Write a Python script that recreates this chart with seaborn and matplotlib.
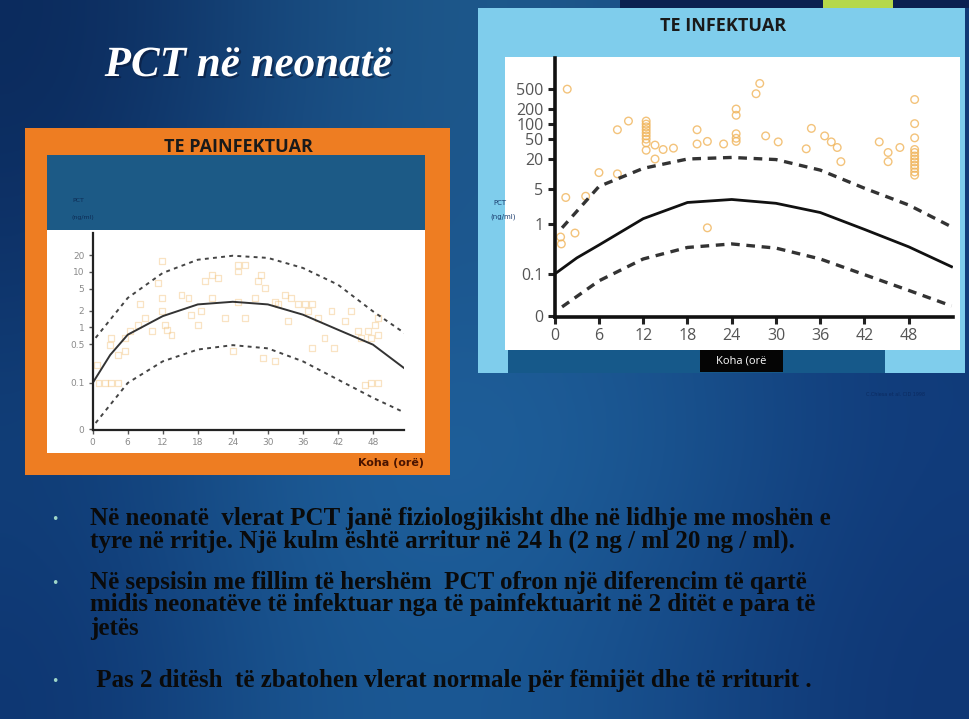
import numpy as np
import pandas as pd
import matplotlib
matplotlib.use("Agg")
import matplotlib.pyplot as plt
import matplotlib.patheffects as pe
from matplotlib.patches import Rectangle
from matplotlib.colors import to_rgb
import seaborn as sns

# ---------------- data ----------------
# Uninfected neonates (TE PAINFEKTUAR): hours of life and PCT (ng/ml)
uninf_hours = [0.7, 1.0, 2.1, 3.2, 4.4, 3.0, 3.2, 4.4, 5.5, 5.5, 6.4, 7.8, 9.0, 8.1, 10.1,
               11.8, 11.2, 11.8, 11.8, 12.4, 12.7, 13.5, 15.2, 16.4, 16.9, 18.1, 18.6, 19.2,
               20.4, 20.4, 21.5, 22.6, 24.1, 24.9, 24.9, 26.1, 24.9, 26.1, 27.8, 28.3, 28.9,
               29.5, 29.2, 31.2, 31.2, 31.8, 32.9, 33.5, 34.0, 35.2, 36.3, 37.5, 36.9, 37.5,
               38.6, 39.7, 40.9, 41.4, 43.2, 44.3, 45.4, 46.0, 47.1, 47.7, 48.3, 48.9, 48.9,
               46.6, 47.7, 48.9]
uninf_pct = [0.21, 0.1, 0.1, 0.1, 0.1, 0.49, 0.65, 0.32, 0.37, 0.65, 0.85, 1.1, 1.5, 2.6, 0.85,
             15.5, 6.3, 3.4, 1.95, 1.1, 0.91, 0.74, 3.9, 3.4, 1.7, 1.1, 1.95, 6.8,
             3.4, 8.9, 7.8, 1.5, 0.37, 13.5, 10.2, 13.5, 2.9, 1.5, 3.4, 6.8, 8.9,
             5.2, 0.28, 0.25, 2.9, 2.6, 3.9, 1.3, 3.4, 2.6, 2.6, 2.6, 1.95, 0.43,
             1.5, 0.65, 1.95, 0.43, 1.3, 1.95, 0.85, 0.65, 0.85, 0.65, 1.1, 1.5, 0.74,
             0.093, 0.1, 0.1]

# Infected neonates (TE INFEKTUAR)
inf_hours = [1.7, 1.5, 4.2, 0.8, 0.9, 2.75, 6.0, 8.5, 8.5, 10.0,
             12.4, 12.4, 12.4, 12.4, 12.4, 12.4, 12.4, 12.4, 12.4,
             13.6, 13.6, 14.7, 16.1,
             19.3, 19.3, 20.7, 20.7, 22.9,
             24.6, 24.6, 24.6, 24.6, 24.6,
             27.3, 27.8, 28.6, 30.3,
             34.1, 34.8, 36.6, 37.5, 38.3, 38.8,
             44.0, 45.2, 45.2, 46.8,
             48.8, 48.8, 48.8, 48.8, 48.8, 48.8, 48.8, 48.8, 48.8, 48.8, 48.8, 48.8]
inf_pct = [500, 3.4, 3.6, 0.55, 0.4, 0.66, 10.7, 10.1, 77, 115,
           115, 100, 88, 77, 67, 58, 50, 42, 30,
           38, 20, 31, 33,
           77, 40, 45, 0.84, 40,
           200, 150, 64, 52, 45,
           405, 650, 58, 44,
           32, 82, 58, 44, 34, 17.7,
           44, 27, 17.7, 34,
           310, 102, 53, 31, 27, 23, 20, 17.5, 15, 13, 11, 9.5]

# Reference curves: median and 95% limits (ng/ml) at given hours
curve_hours_l = [0, 3, 6, 12, 18, 24, 30, 36, 42, 48, 53.8]
uninf_median = [0.1, 0.32, 0.74, 1.6, 2.6, 2.9, 2.6, 1.7, 0.91, 0.49, 0.17]
band_hours_l = [0.5, 6, 12, 18, 24, 30, 36, 42, 48, 53.8]
uninf_upper = [0.65, 3.4, 9.6, 16.6, 19.6, 17.9, 11.8, 5.9, 1.95, 0.74]
uninf_lower = [0.019, 0.1, 0.245, 0.4, 0.48, 0.42, 0.245, 0.115, 0.054, 0.028]

curve_hours_r = [0, 3, 6, 12, 18, 24, 30, 36, 42, 48, 53.8]
inf_median = [0.1, 0.21, 0.38, 1.28, 2.7, 3.1, 2.6, 1.7, 0.78, 0.35, 0.14]
band_hours_r = [1.0, 6, 12, 18, 24, 30, 36, 42, 48, 53.8]
inf_upper = [0.84, 5.65, 13, 20, 21.5, 19.5, 12, 5.2, 2.4, 0.88]
inf_lower = [0.022, 0.073, 0.2, 0.34, 0.4, 0.33, 0.2, 0.097, 0.047, 0.023]

x_ticks = [0, 6, 12, 18, 24, 30, 36, 42, 48]
left_yticks = [0.0145, 0.1, 0.5, 1, 2, 5, 10, 20]
left_ylabels = ["0", "0.1", "0.5", "1", "2", "5", "10", "20"]
right_yticks = [0.0146, 0.1, 1, 5, 20, 50, 100, 200, 500]
right_ylabels = ["0", "0.1", "1", "5", "20", "50", "100", "200", "500"]

slide_title = "PCT në neonatë"
bullets = [
    ["Në neonatë  vlerat PCT janë fiziologjikisht dhe në lidhje me moshën e",
     "tyre në rritje. Një kulm është arritur në 24 h (2 ng / ml 20 ng / ml)."],
    ["Në sepsisin me fillim të hershëm  PCT ofron një diferencim të qartë",
     "midis neonatëve të infektuar nga të painfektuarit në 2 ditët e para të",
     "jetës"],
    [" Pas 2 ditësh  të zbatohen vlerat normale për fëmijët dhe të rriturit ."],
]

# ---------------- figure ----------------
W, H = 970, 719
fig = plt.figure(figsize=(W / 100, H / 100), dpi=100)


def fbox(x0, y0, x1, y1):
    """Pixel box (top-left origin) -> figure fraction [l, b, w, h]."""
    return [x0 / W, 1 - y1 / H, (x1 - x0) / W, (y1 - y0) / H]


def rect(x0, y0, x1, y1, color, z=-2):
    l, b, w, h = fbox(x0, y0, x1, y1)
    fig.add_artist(Rectangle((l, b), w, h, transform=fig.transFigure,
                             facecolor=color, edgecolor="none", zorder=z))


def ftext(x, y, s, **kw):
    fig.text(x / W, 1 - y / H, s, **kw)


# slide background gradient
grid_hex = [
    ["#0b2a5c", "#184b80", "#1f5c8e", "#1a4f86", "#123a76"],
    ["#0e336a", "#1a5088", "#1d5a92", "#184f8a", "#103a78"],
    ["#11407a", "#1d5c96", "#2064a0", "#1a5590", "#113c7c"],
    ["#0e3672", "#1a5590", "#1b5a96", "#164a88", "#0f3674"],
]
grid = np.array([[to_rgb(c) for c in row] for row in grid_hex])
ax_bg = fig.add_axes([0, 0, 1, 1], zorder=-10)
ax_bg.imshow(grid, extent=(0, 1, 0, 1), aspect="auto", interpolation="bicubic")
ax_bg.set_axis_off()

# left panel frame
rect(25, 128, 450, 475, "#ee7d22")
rect(47, 155, 425, 230, "#1c5a86")
rect(47, 230, 425, 453, "#ffffff")
ftext(238, 147, "TE PAINFEKTUAR", ha="center", va="center", fontsize=13,
      fontweight="bold", family="Open Sans", color="#1a1a1a", zorder=3)
ftext(72, 201, "PCT", fontsize=4.5, color="#0d2c55", va="center", zorder=3)
ftext(72, 217, "(ng/ml)", fontsize=4.5, color="#0d2c55", va="center", zorder=3)
ftext(424, 463, "Koha (orë)", ha="right", va="center", fontsize=8,
      fontweight="bold", color="#4a1400", zorder=3)

# right panel frame
rect(620, 0, 970, 8, "#0b2050")
rect(823, 0, 893, 8, "#b5d84a")
rect(478, 8, 965, 373, "#7fcdec")
rect(505, 57, 960, 350, "#ffffff")
rect(508, 350, 885, 373, "#16598a")
rect(700, 350, 783, 372, "#050505")
ftext(723, 26, "TE INFEKTUAR", ha="center", va="center", fontsize=13,
      fontweight="bold", family="Open Sans", color="#1a1a1a", zorder=3)
ftext(741, 361, "Koha (orë", ha="center", va="center", fontsize=8,
      family="Open Sans", color="#ffffff", zorder=3)
ftext(493, 203, "PCT", fontsize=5, color="#1b3d6e", va="center", zorder=4)
ftext(490, 217, "(ng/ml)", fontsize=5, color="#1b3d6e", va="center", zorder=4)

ftext(895, 395, "C.Chiesa et al. CID 1998", ha="center", va="center",
      fontsize=3.5, color="#0b2a60", zorder=3)

# ---------------- left chart ----------------
axl = fig.add_axes(fbox(92.7, 233, 404.5, 430), zorder=1)
axl.set_facecolor("none")
df_ls = pd.DataFrame({"h": uninf_hours, "pct": uninf_pct})
sns.scatterplot(data=df_ls, x="h", y="pct", ax=axl, marker="s", s=18,
                facecolor="none", edgecolor="#f2c27a", linewidth=0.9, alpha=0.45)
sns.lineplot(x=curve_hours_l, y=uninf_median, ax=axl, color="#333333", lw=1.4)
sns.lineplot(x=band_hours_l, y=uninf_upper, ax=axl, color="#444444", lw=1.4,
             linestyle=(0, (2, 2.2)))
sns.lineplot(x=band_hours_l, y=uninf_lower, ax=axl, color="#444444", lw=1.4,
             linestyle=(0, (2, 2.2)))
axl.set_yscale("log")
axl.set_xlim(0, 53.4)
axl.set_ylim(0.0142, 50.3)
axl.set_xticks(x_ticks)
axl.set_yticks(left_yticks)
axl.set_yticklabels(left_ylabels)
axl.minorticks_off()
axl.set_xlabel("")
axl.set_ylabel("")
for s in ["top", "right"]:
    axl.spines[s].set_visible(False)
for s in ["left", "bottom"]:
    axl.spines[s].set_linewidth(1.6)
    axl.spines[s].set_color("#222222")
axl.tick_params(axis="both", length=3, width=1, color="#555555",
                labelsize=6.5, labelcolor="#8a8a8a", pad=3)

# ---------------- right chart ----------------
axr = fig.add_axes(fbox(554.7, 58, 953, 317), zorder=1)
axr.set_facecolor("none")
df_rs = pd.DataFrame({"h": inf_hours, "pct": inf_pct})
sns.scatterplot(data=df_rs, x="h", y="pct", ax=axr, marker="o", s=30,
                facecolor="none", edgecolor="#f0b45a", linewidth=1.0, alpha=0.8)
sns.lineplot(x=curve_hours_r, y=inf_median, ax=axr, color="#111111", lw=2.0)
sns.lineplot(x=band_hours_r, y=inf_upper, ax=axr, color="#333333", lw=2.4,
             linestyle=(0, (2.6, 2.0)))
sns.lineplot(x=band_hours_r, y=inf_lower, ax=axr, color="#333333", lw=2.4,
             linestyle=(0, (2.6, 2.0)))
axr.set_yscale("log")
axr.set_xlim(0, 54)
axr.set_ylim(0.0138, 2100)
axr.set_xticks(x_ticks)
axr.set_yticks(right_yticks)
axr.set_yticklabels(right_ylabels)
axr.minorticks_off()
axr.set_xlabel("")
axr.set_ylabel("")
for s in ["top", "right"]:
    axr.spines[s].set_visible(False)
for s in ["left", "bottom"]:
    axr.spines[s].set_linewidth(2.6)
    axr.spines[s].set_color("#111111")
axr.tick_params(axis="both", length=5, width=2.2, color="#222222",
                labelsize=11.5, labelcolor="#555555", pad=3)
for lab in axr.get_xticklabels() + axr.get_yticklabels():
    lab.set_family("Open Sans")

# ---------------- slide text ----------------
ftext(248, 66, slide_title, ha="center", va="center", fontsize=31,
      family="Liberation Serif", fontweight="bold", style="italic",
      color="#ffffff", zorder=3,
      path_effects=[pe.withSimplePatchShadow(offset=(1.5, -1.5),
                                             shadow_rgbFace="#0a1a3a", alpha=0.6)])

line_y = [[519, 541], [583, 605, 628], [681]]
for lines, ys in zip(bullets, line_y):
    ftext(55, ys[0], "•", ha="center", va="center", fontsize=9,
          color="#9fd6c8", zorder=3)
    for txt, y in zip(lines, ys):
        ftext(90, y, txt, ha="left", va="center", fontsize=18,
              family="Liberation Serif", fontweight="bold", color="#0a0a0a",
              zorder=3)

fig.savefig("out.png", dpi=100)
